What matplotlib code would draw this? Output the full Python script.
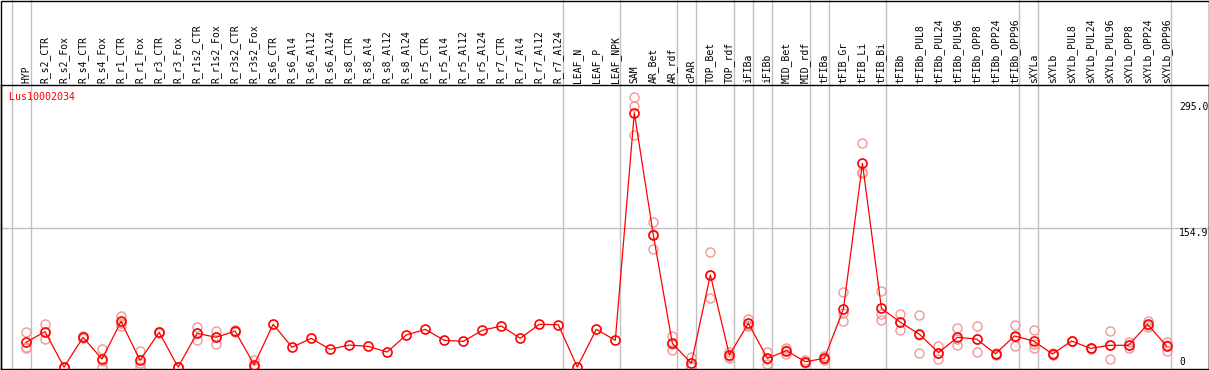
import numpy as np
import matplotlib
matplotlib.use("Agg")
import matplotlib.pyplot as plt
from matplotlib.transforms import blended_transform_factory
from matplotlib.patches import Rectangle

# sample names (header)
samples = ["HYP", "R_s2_CTR", "R_s2_Fox", "R_s4_CTR", "R_s4_Fox", "R_r1_CTR", "R_r1_Fox",
           "R_r3_CTR", "R_r3_Fox", "R_r1s2_CTR", "R_r1s2_Fox", "R_r3s2_CTR", "R_r3s2_Fox",
           "R_s6_CTR", "R_s6_Al4", "R_s6_Al12", "R_s6_Al24", "R_s8_CTR", "R_s8_Al4",
           "R_s8_Al12", "R_s8_Al24", "R_r5_CTR", "R_r5_Al4", "R_r5_Al12", "R_r5_Al24",
           "R_r7_CTR", "R_r7_Al4", "R_r7_Al12", "R_r7_Al24", "LEAF_N", "LEAF_P", "LEAF_NPK",
           "SAM", "AR_Bet", "AR_rdf", "cPAR", "TOP_Bet", "TOP_rdf", "iFIBa", "iFIBb",
           "MID_Bet", "MID_rdf", "tFIBa", "tFIB_Gr", "tFIB_Li", "tFIB_Bi", "tFIBb",
           "tFIBb_PUL8", "tFIBb_PUL24", "tFIBb_PUL96", "tFIBb_OPP8", "tFIBb_OPP24",
           "tFIBb_OPP96", "sXYLa", "sXYLb", "sXYLb_PUL8", "sXYLb_PUL24", "sXYLb_PUL96",
           "sXYLb_OPP8", "sXYLb_OPP24", "sXYLb_OPP96"]

# mean expression per sample
means = [27.5, 39.4, 0, 33.1, 8.9, 50.9, 7.4, 38.7, 0, 37.6, 33.1, 40.1, 2.6,
         47.6, 22.0, 32.0, 19.7, 24.5, 23.0, 16.7, 35.7, 42.0, 29.8, 28.6, 40.9,
         45.7, 32.0, 47.6, 47.2, 0, 42.0, 29.8,
         283.5, 147.2, 26.4, 4.1, 102.6, 13.4, 48.7, 9.7, 18.2, 5.9, 9.7,
         64.7, 227.1, 65.4, 49.8, 36.5, 16.0, 33.1, 31.2, 14.8, 34.6,
         29.0, 14.5, 29.0, 20.8, 24.2, 24.2, 47.6, 23.4]

# replicate values (nan = no replicates shown)
nan = np.nan
rep_a = [38.7, 47.6, 0, 34.5, 19.7, 57.2, 17.8, 39.5, 0, 44.6, 40.1, 41.0, 7.8] + [nan] * 19 + \
        [300.5, 161.3, 34.6, 11.1, 128.5, 17.1, 53.5, 16.7, 21.5, 7.8, 12.3,
         83.3, 249.4, 84.7, 58.8, 58.0, 23.8, 43.8, 45.7, 15.8, 46.8,
         40.9, 15.5, 29.5, 21.3, 40.1, 27.9, 51.6, 27.9]
rep_b = [21.5, 31.6, 0, 32.0, 0, 46.0, 0, 38.0, 0, 30.1, 25.3, 39.5, 0] + [nan] * 19 + \
        [259.0, 131.5, 18.6, 0.3, 76.6, 10.4, 46.0, 3.3, 14.5, 4.1, 7.8,
         50.9, 215.9, 52.1, 40.9, 16.0, 8.6, 24.5, 16.7, 13.8, 23.4,
         20.8, 13.5, 28.5, 20.3, 8.6, 20.8, 44.6, 18.2]
rep_c = [22.3, 39.0, 0, 32.8, 7.0, 49.6, 4.4, 38.6, 0, 38.1, 33.9, 39.8, 0] + [nan] * 19 + \
        [291.0, 148.8, 26.0, 1.0, 102.7, 12.7, 46.6, 9.1, 18.6, 5.8, 9.0,
         59.9, 217.7, 58.8, 49.7, 35.5, 15.6, 31.0, 31.2, 14.8, 33.6,
         25.3, 14.5, 29.0, 20.8, 24.0, 24.0, 46.6, 24.1]

# group separators (after these sample indices)
separators = [-1, 0, 28, 31, 34, 35, 37, 38, 39, 41, 42, 45, 52, 53, 60]
y_ticks = [295.0, 154.9, 0]
gene = "Lus10002034"

W, H = 1209, 370
fig = plt.figure(figsize=(W / 100, H / 100), dpi=100)
ax = fig.add_axes([0.5 / W, 1 / H, 1208 / W, 284 / H])

step = 19.01
x0 = 26
ax.set_xlim((0.5 - x0) / step, (1208.5 - x0) / step)
ax.set_ylim(-2.2, 314.4)
ax.set_xticks([])
ax.set_yticks([])
for s in ax.spines.values():
    s.set_color("black")
    s.set_linewidth(1.0)

grey = "#c0c0c0"
trans_fig = blended_transform_factory(ax.transData, fig.transFigure)
for s in separators:
    ax.plot([s + 0.24, s + 0.24], [0, 1], color=grey, lw=1.0, transform=trans_fig,
            clip_on=False, zorder=1)
ax.axhline(154.9, color=grey, lw=1.0, zorder=1)

x = np.arange(len(samples))
for reps in (rep_a, rep_b, rep_c):
    ax.plot(x, reps, ls="none", marker="o", ms=6.5, mfc="none", mec="#f09898",
            mew=1.0, zorder=2, clip_on=False)
ax.plot(x, means, color="red", lw=0.9, marker="o", ms=6.5, mfc="none", mec="red",
        mew=1.2, zorder=3)

mono = "DejaVu Sans Mono"
for i, name in enumerate(samples):
    ax.text(i, 1 - 83 / H, name, rotation=90, ha="center", va="bottom",
            transform=trans_fig, fontsize=7, family=mono, clip_on=False)

for v in y_ticks:
    ax.text((1179 - x0) / step, v, f"{v:.1f}" if v else "0", ha="left",
            va="top" if v else "bottom", fontsize=7, family=mono)

fig.text(9 / W, 1 - 92 / H, gene, color="red", ha="left", va="top",
         fontsize=7.2, family=mono)

# outer frame
fig.patches.append(Rectangle((0.5 / W, 0.5 / H), 1208 / W, 369 / H, fill=False,
                             edgecolor="black", lw=1.0, transform=fig.transFigure))

fig.savefig("out.png", dpi=100)
